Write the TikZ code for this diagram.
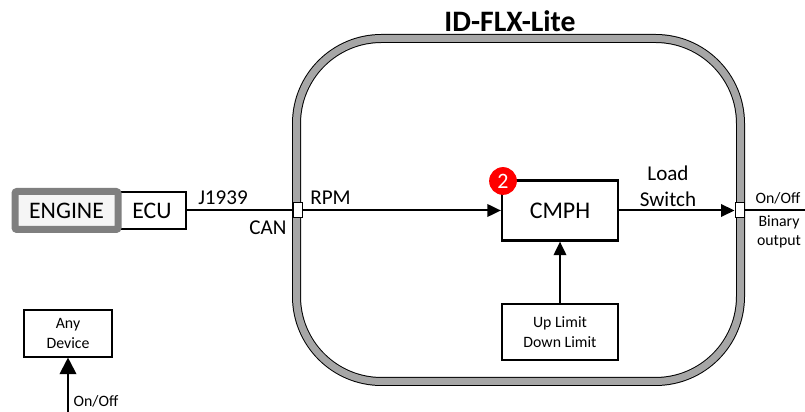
\documentclass[tikz,border=0pt]{standalone}
\usepackage{fontspec}
\setmainfont{Carlito}
\usetikzlibrary{arrows.meta}
\definecolor{bandgray}{HTML}{A6A6A6}
\definecolor{enginegray}{HTML}{7F7F7F}
\definecolor{badgered}{HTML}{FF0000}
\tikzset{
    sig/.style={line width=0.04cm, -{Triangle[length=0.27cm,width=0.25cm]}},
    wire/.style={line width=0.04cm},
    blockbox/.style={draw, line width=0.045cm, inner sep=0pt, fill=white},
    thinbox/.style={draw, line width=0.022cm, inner sep=0pt, align=center, font=\fontsize{9}{11.4}\selectfont},
    port/.style={draw, line width=0.02cm, fill=white, inner sep=0pt, minimum width=0.18cm, minimum height=0.3cm},
    lbl/.style={inner sep=0pt, font=\fontsize{12}{14}\selectfont, align=center},
    smalllbl/.style={inner sep=0pt, font=\fontsize{9}{11.2}\selectfont, align=center}
}
\begin{document}
\begin{tikzpicture}
    \useasboundingbox (0,0) rectangle (16.1,-8.24);
    \node[draw, line width=0.02cm, double=bandgray, double distance=0.14cm, rounded corners=1.7cm, minimum width=8.88cm, minimum height=6.86cm] (frame) at (10.37,-4.2) {};
    \node[inner sep=0pt, font=\fontsize{16.9}{18}\selectfont\bfseries] (title) at (10.2,-0.42) {ID-FLX-Lite};
    \node[blockbox, minimum width=1.36cm, minimum height=0.75cm, font=\fontsize{13.5}{14}\selectfont] (ecu) at (3.04,-4.21) {ECU};
    \node[draw=enginegray, fill=black!4, line width=0.14cm, rounded corners=0.04cm, minimum width=2.06cm, minimum height=0.76cm, inner sep=0pt, font=\fontsize{13.5}{14}\selectfont] (engine) at (1.33,-4.21) {ENGINE};
    \node[port] (portl) at (5.95,-4.21) {};
    \node[port] (portr) at (14.79,-4.21) {};
    \node[blockbox, minimum width=2.32cm, minimum height=1.2cm, font=\fontsize{13.6}{14}\selectfont] (cmph) at (11.2,-4.21) {CMPH};
    \node[thinbox, minimum width=2.32cm, minimum height=1.12cm] (limits) at (11.2,-6.64) {Up Limit\\Down Limit};
    \node[thinbox, minimum width=1.76cm, minimum height=0.94cm] (anydevice) at (1.36,-6.67) {Any\\Device};
    \node[circle, fill=badgered, minimum size=0.555cm, inner sep=0pt, text=white, font=\fontsize{12.5}{12}\selectfont] (badge) at (10.06,-3.62) {2};
    \coordinate (outr) at (16.1,-4.21);
    \coordinate (inany) at (1.36,-8.24);
    \draw[wire] (ecu.east) -- (portl.west);
    \draw[sig] (portl.east) -- (cmph.west);
    \draw[sig] (cmph.east) -- (portr.west);
    \draw[wire] (portr.east) -- (outr);
    \draw[sig] (limits.north) -- (cmph.south);
    \draw[sig, -{Triangle[length=0.33cm,width=0.33cm]}] (inany) -- (anydevice.south);
    \node[lbl] (j1939) at (4.46,-3.95) {J1939};
    \node[lbl] (can) at (5.36,-4.56) {CAN};
    \node[lbl] (rpm) at (6.61,-3.95) {RPM};
    \node[lbl] (load) at (13.36,-3.47) {Load};
    \node[lbl] (switch) at (13.36,-3.98) {Switch};
    \node[smalllbl] (onoffr) at (15.56,-3.97) {On/Off};
    \node[smalllbl] (binary) at (15.58,-4.64) {Binary\\output};
    \node[smalllbl] (onoffl) at (1.92,-8.02) {On/Off};
\end{tikzpicture}
\end{document}
